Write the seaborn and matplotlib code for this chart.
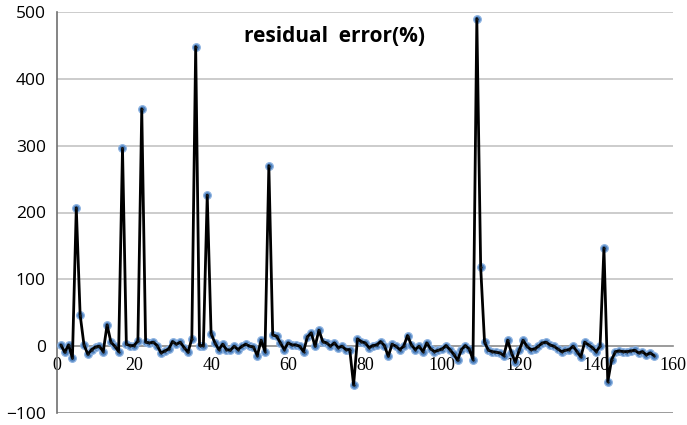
import numpy as np
import pandas as pd
import matplotlib
matplotlib.use("Agg")
import matplotlib.pyplot as plt
import seaborn as sns

residual = [
    2, -9, 2, -18, 207, 47, 2, -12, -5, -1,
    0, -8, 32, 6, 0, -8, 296, 3, 1, 1,
    8, 355, 6, 5, 6, 1, -10, -7, -4, 7,
    3, 6, -2, -9, 11, 448, 1, 1, 226, 19,
    5, -5, 3, -5, -6, 0, -5, 0, 3, 0,
    -1, -14, 9, -8, 270, 17, 15, 5, -5, 5,
    2, 2, 0, -8, 14, 20, 0, 24, 7, 5,
    0, 5, -2, 0, -5, -5, -58, 11, 7, 5,
    -2, 1, 2, 7, 1, -15, 3, 0, -5, 0,
    16, 2, -5, 0, -8, 5, -4, -8, -6, -4,
    1, -5, -12, -21, -5, 1, -4, -20, 490, 118,
    6, -6, -8, -9, -10, -14, 9, -10, -24, -6,
    9, 0, -5, -4, 0, 5, 6, 2, 0, -4,
    -8, -6, -5, 0, -8, -16, 6, 2, -2, -8,
    0, 147, -53, -20, -8, -7, -8, -8, -7, -6,
    -10, -8, -13, -10, -14,
]
index = list(range(1, len(residual) + 1))
x_ticks = [0, 20, 40, 60, 80, 100, 120, 140, 160]
y_ticks = [-100, 0, 100, 200, 300, 400, 500]
title = "residual  error(%)"

df = pd.DataFrame({"n": index, "err": residual})

sns.set_style("white")
fig = plt.figure(figsize=(6.87, 4.25), dpi=100)
ax = fig.add_axes([0.083, 0.028, 0.897, 0.944])

# markers (underneath) then the black line
sns.scatterplot(data=df, x="n", y="err", ax=ax, s=30, color="#4F81BD",
                edgecolor="#8DB3E2", linewidth=0.9, zorder=3, legend=False)
sns.lineplot(data=df, x="n", y="err", ax=ax, color="black", linewidth=2.0,
             zorder=4, legend=False)
sns.scatterplot(data=df, x="n", y="err", ax=ax, s=3, color="#1a1a1a",
                linewidth=0, zorder=5, legend=False)

ax.set_xlim(0, 160)
ax.set_ylim(-100, 500)
ax.set_yticks(y_ticks)
ax.set_xticks(x_ticks)
ax.set_xlabel("")
ax.set_ylabel("")

for yv in y_ticks:
    if yv == 0:
        continue
    ax.axhline(yv, color="#C4C4C4" if yv != -100 else "#8A8A8A",
               linewidth=1.2, zorder=1)

ax.spines["top"].set_visible(False)
ax.spines["right"].set_visible(False)
ax.spines["bottom"].set_position(("data", 0))
ax.spines["bottom"].set_color("#8A8A8A")
ax.spines["bottom"].set_linewidth(1.2)
ax.spines["left"].set_color("#707070")
ax.spines["left"].set_linewidth(1.2)

ax.tick_params(axis="y", direction="out", length=5, width=1.1, color="#707070",
               labelsize=12.5, pad=3, labelcolor="black")
ax.tick_params(axis="x", direction="out", length=5, width=1.1, color="#8A8A8A",
               labelsize=13, pad=3, labelcolor="black")
for lab in ax.get_yticklabels():
    lab.set_fontfamily("Open Sans")
for lab in ax.get_xticklabels():
    lab.set_fontfamily("Liberation Serif")

ax.text(0.451, 0.938, title, transform=ax.transAxes, ha="center", va="center",
        fontsize=15, fontweight="bold", family="Open Sans", color="black")

fig.savefig("out.png", dpi=100)
